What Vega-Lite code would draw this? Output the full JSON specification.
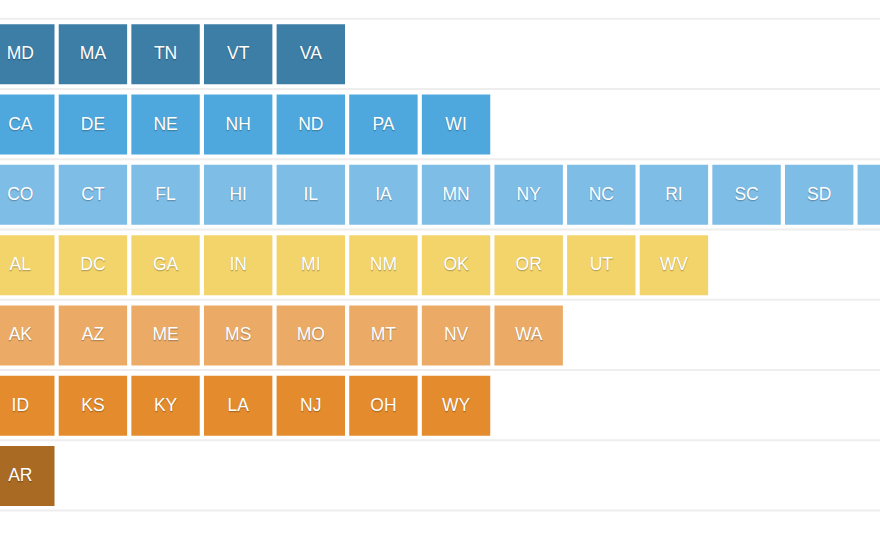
{
  "$schema": "https://vega.github.io/schema/vega-lite/v6.json",
  "width": 880,
  "height": 542,
  "padding": 0,
  "autosize": "none",
  "background": "white",
  "config": {"view": {"stroke": null}},
  "resolve": {"scale": {"y": "independent"}},
  "layer": [
    {
      "data": {"values": [{"k": 0}, {"k": 1}, {"k": 2}, {"k": 3}, {"k": 4}, {"k": 5}, {"k": 6}, {"k": 7}]},
      "mark": {"type": "rule", "color": "#eeeeee", "strokeWidth": 2},
      "encoding": {
        "y": {"field": "k", "type": "quantitative", "axis": null,
              "scale": {"domain": [0, 7], "range": [18.7, 510.5], "zero": false, "nice": false}}
      }
    },
    {
      "data": {"values": [
        {"state": "MD", "tier": 1}, {"state": "MA", "tier": 1}, {"state": "TN", "tier": 1}, {"state": "VT", "tier": 1}, {"state": "VA", "tier": 1},
        {"state": "CA", "tier": 2}, {"state": "DE", "tier": 2}, {"state": "NE", "tier": 2}, {"state": "NH", "tier": 2}, {"state": "ND", "tier": 2}, {"state": "PA", "tier": 2}, {"state": "WI", "tier": 2},
        {"state": "CO", "tier": 3}, {"state": "CT", "tier": 3}, {"state": "FL", "tier": 3}, {"state": "HI", "tier": 3}, {"state": "IL", "tier": 3}, {"state": "IA", "tier": 3}, {"state": "MN", "tier": 3}, {"state": "NY", "tier": 3}, {"state": "NC", "tier": 3}, {"state": "RI", "tier": 3}, {"state": "SC", "tier": 3}, {"state": "SD", "tier": 3}, {"state": "TX", "tier": 3},
        {"state": "AL", "tier": 4}, {"state": "DC", "tier": 4}, {"state": "GA", "tier": 4}, {"state": "IN", "tier": 4}, {"state": "MI", "tier": 4}, {"state": "NM", "tier": 4}, {"state": "OK", "tier": 4}, {"state": "OR", "tier": 4}, {"state": "UT", "tier": 4}, {"state": "WV", "tier": 4},
        {"state": "AK", "tier": 5}, {"state": "AZ", "tier": 5}, {"state": "ME", "tier": 5}, {"state": "MS", "tier": 5}, {"state": "MO", "tier": 5}, {"state": "MT", "tier": 5}, {"state": "NV", "tier": 5}, {"state": "WA", "tier": 5},
        {"state": "ID", "tier": 6}, {"state": "KS", "tier": 6}, {"state": "KY", "tier": 6}, {"state": "LA", "tier": 6}, {"state": "NJ", "tier": 6}, {"state": "OH", "tier": 6}, {"state": "WY", "tier": 6},
        {"state": "AR", "tier": 7}
      ]},
      "transform": [
        {"window": [{"op": "row_number", "as": "col"}], "groupby": ["tier"]}
      ],
      "encoding": {
        "x": {"field": "col", "type": "ordinal", "axis": null,
              "scale": {"domain": [1, 2, 3, 4, 5, 6, 7, 8, 9, 10, 11, 12, 13], "range": [-13.9, 926], "paddingInner": 0.058, "paddingOuter": 0}},
        "y": {"field": "tier", "type": "ordinal", "axis": null,
              "scale": {"domain": [1, 2, 3, 4, 5, 6, 7], "range": [24.3, 506], "paddingInner": 0.1463, "paddingOuter": 0}}
      },
      "layer": [
        {
          "mark": {"type": "rect", "clip": true},
          "encoding": {
            "color": {"field": "tier", "type": "ordinal", "legend": null,
                      "scale": {"domain": [1, 2, 3, 4, 5, 6, 7],
                                "range": ["#3d7ea6", "#4ea8dd", "#7dbde6", "#f2d46b", "#ebab67", "#e48c2d", "#a96b24"]}}
          }
        },
        {
          "mark": {"type": "text", "clip": true, "color": "black", "opacity": 0.22, "dy": 1, "font": "Liberation Sans", "fontSize": 17.5, "baseline": "middle", "align": "center", "stroke": "black", "strokeWidth": 1, "strokeOpacity": 0.5},
          "encoding": {"text": {"field": "state", "type": "nominal"}}
        },
        {
          "mark": {"type": "text", "clip": true, "color": "white", "font": "Liberation Sans", "fontSize": 17.5, "baseline": "middle", "align": "center"},
          "encoding": {"text": {"field": "state", "type": "nominal"}}
        }
      ]
    }
  ]
}
